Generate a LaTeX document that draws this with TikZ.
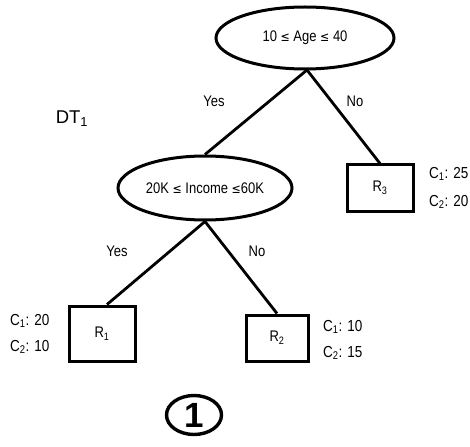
\documentclass[tikz,border=0pt]{standalone}
\usepackage{fontspec}
\usepackage{graphicx}
\setmainfont{Liberation Sans}
\usetikzlibrary{shapes.geometric}
\newfontfamily\symfont{DejaVu Sans}
\newcommand{\lte}{{\symfont\fontsize{11}{13}\selectfont ≤}}
% slightly tall lettering
\newcommand{\tall}[1]{\scalebox{1}[1.18]{#1}}
\begin{document}
\begin{tikzpicture}[x=1pt,y=-1pt,
  edge/.style={line width=2.8pt},
  test/.style={ellipse,draw,line width=3pt,inner sep=0pt,font=\fontsize{13}{15}\selectfont},
  leaf/.style={rectangle,draw,line width=3pt,inner sep=0pt,font=\fontsize{13}{15}\selectfont},
  lab/.style={font=\fontsize{13}{15}\selectfont,inner sep=0pt},
  cnt/.style={font=\fontsize{13.5}{15}\selectfont,inner sep=0pt,anchor=west}]
\useasboundingbox (0,0) rectangle (470,446);
% tests
\node[test,minimum width=178pt,minimum height=62pt] (age) at (305,38) {\tall{10 \lte{} Age \lte{} 40}};
\node[test,minimum width=174pt,minimum height=64pt] (inc) at (205,188) {\tall{20K \lte{} Income \lte 60K}};
% leaves
\node[leaf,minimum width=66pt,minimum height=46pt] (r3) at (380,188) {\tall{R\textsubscript{3}}};
\node[leaf,minimum width=66pt,minimum height=55pt] (r1) at (102,333.5) {\tall{R\textsubscript{1}}};
\node[leaf,minimum width=62pt,minimum height=46pt] (r2) at (277,338) {\tall{R\textsubscript{2}}};
% branches
\coordinate (agebot) at (307,70);
\draw[edge] (agebot) -- (inc.north);
\draw[edge] (agebot) -- (r3.north);
\draw[edge] (inc.south) -- ([xshift=5pt]r1.north);
\draw[edge] (inc.south) -- (r2.north);
% branch labels
\node[lab] (y1) at (214,101) {\tall{Yes}};
\node[lab] (n1) at (355,101) {\tall{No}};
\node[lab] (y2) at (117,251) {\tall{Yes}};
\node[lab] (n2) at (257,251) {\tall{No}};
% tree name
\node[font=\fontsize{18.5}{20}\selectfont,inner sep=0pt] (dt) at (72,119) {DT\textsubscript{1}};
% class counts
\node[cnt] (c31) at (429,174) {\tall{C\textsubscript{1}: 25}};
\node[cnt] (c32) at (429,202) {\tall{C\textsubscript{2}: 20}};
\node[cnt] (c11) at (10,321) {\tall{C\textsubscript{1}: 20}};
\node[cnt] (c12) at (10,347) {\tall{C\textsubscript{2}: 10}};
\node[cnt] (c21) at (323,327) {\tall{C\textsubscript{1}: 10}};
\node[cnt] (c22) at (323,353) {\tall{C\textsubscript{2}: 15}};
% tree number
\node[ellipse,draw,line width=3.4pt,minimum width=55pt,minimum height=39pt,inner sep=0pt,font=\bfseries\fontsize{35}{35}\selectfont] (num) at (194,415) {1};
\end{tikzpicture}
\end{document}
